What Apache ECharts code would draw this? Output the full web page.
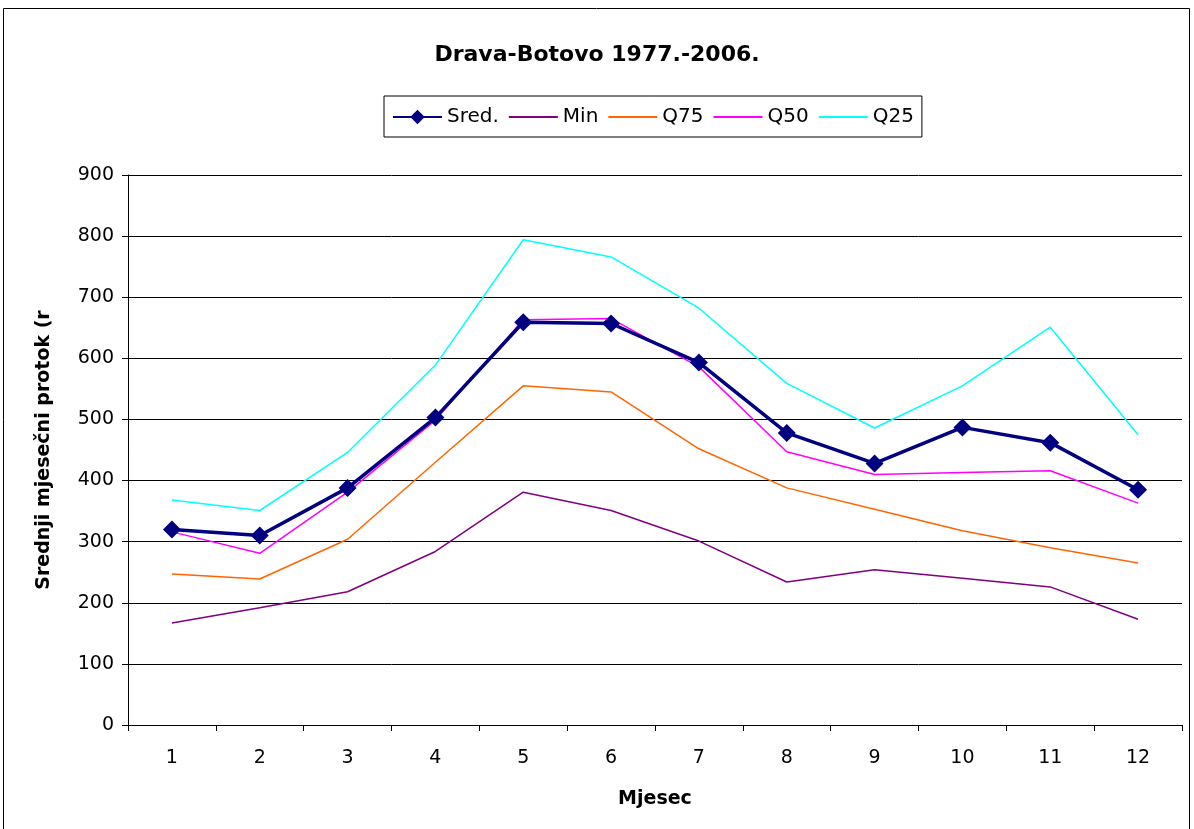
<!DOCTYPE html>
<html>
<head>
<meta charset="utf-8">
<script src="https://cdn.jsdelivr.net/npm/echarts@6/dist/echarts.min.js"></script>
<style>html,body{margin:0;padding:0;background:#fff}#c{width:1194px;height:829px}</style>
</head>
<body>
<div id="c"></div>
<script>
const months = ['1','2','3','4','5','6','7','8','9','10','11','12'];
const sred = [320, 310, 388, 503, 659, 657, 593, 478, 428, 487, 462, 385];
const minV = [167, 192, 218, 284, 381, 351, 301, 234, 254, 240, 226, 173];
const q75 = [247, 239, 304, 430, 555, 545, 452, 388, 353, 318, 290, 265];
const q50 = [316, 281, 381, 499, 663, 665, 586, 447, 410, 413, 416, 363];
const q25 = [368, 351, 446, 589, 794, 766, 682, 559, 486, 555, 651, 475];

const font = 'DejaVu Sans, Arial, sans-serif';
const chart = echarts.init(document.getElementById('c'), null, {renderer: 'canvas'});
function line(name, data, color) {
  return {name, type: 'line', data, symbol: 'none', lineStyle: {color, width: 1.5}, itemStyle: {color}, z: 2};
}
const hidden = {opacity: 0};
chart.setOption({
  animation: false,
  graphic: [{type: 'rect', shape: {x: 3.5, y: 8.5, width: 1186, height: 830}, style: {fill: 'none', stroke: '#000', lineWidth: 1}, silent: true}],
  title: {text: 'Drava-Botovo 1977.-2006.', left: 'center', top: 39, textStyle: {fontFamily: font, fontSize: 22, fontWeight: 'bold', color: '#000'}},
  legend: {
    left: 384, top: 96, padding: [11, 8, 10, 8], itemGap: 9, itemWidth: 49, itemHeight: 18,
    borderColor: '#000', borderWidth: 1,
    textStyle: {fontFamily: font, fontSize: 20, color: '#000'},
    data: [
      {name: 'Sred.'},
      {name: 'Min', itemStyle: hidden},
      {name: 'Q75', itemStyle: hidden},
      {name: 'Q50', itemStyle: hidden},
      {name: 'Q25', itemStyle: hidden}
    ]
  },
  grid: {left: 128, right: 12, top: 175, bottom: 104},
  xAxis: {
    type: 'category', data: months, boundaryGap: true,
    name: 'Mjesec', nameLocation: 'middle', nameGap: 65,
    nameTextStyle: {fontFamily: font, fontSize: 19, fontWeight: 'bold', color: '#000'},
    axisLine: {lineStyle: {color: '#000', width: 1}},
    axisTick: {show: true, length: 6, lineStyle: {color: '#000'}},
    axisLabel: {fontFamily: font, fontSize: 19, color: '#000', margin: 24}
  },
  yAxis: {
    type: 'value', min: 0, max: 900, interval: 100,
    name: 'Srednji mjesečni protok (r', nameLocation: 'middle', nameGap: 74, nameRotate: 90,
    nameTextStyle: {fontFamily: font, fontSize: 19, fontWeight: 'bold', color: '#000'},
    axisLine: {show: true, lineStyle: {color: '#000', width: 1}},
    axisTick: {show: true, length: 6, lineStyle: {color: '#000'}},
    axisLabel: {fontFamily: font, fontSize: 19, color: '#000', margin: 14},
    splitLine: {show: true, lineStyle: {color: '#000', width: 1}}
  },
  series: [
    {name: 'Sred.', type: 'line', data: sred, symbol: 'diamond', symbolSize: 18,
     lineStyle: {color: '#000080', width: 3.5}, itemStyle: {color: '#000080'}, z: 5},
    line('Min', minV, '#800080'),
    line('Q75', q75, '#FF6600'),
    line('Q50', q50, '#FF00FF'),
    line('Q25', q25, '#00FFFF')
  ]
});
</script>
</body>
</html>
